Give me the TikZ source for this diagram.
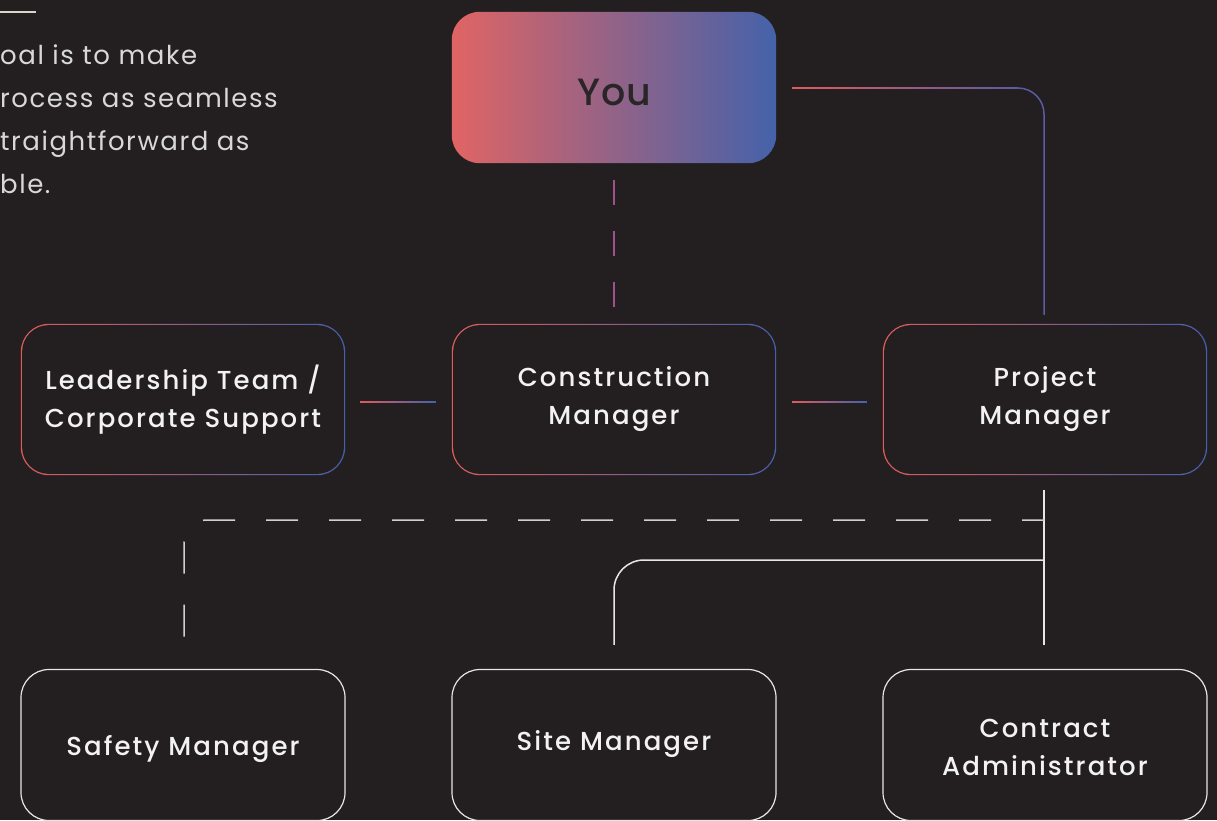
\documentclass[tikz,border=0pt]{standalone}
\usepackage{fontspec}
\setmainfont{Poppins}[LetterSpace=6]
\newfontfamily\medfont{Poppins Medium}[LetterSpace=8]
\newfontfamily\youfont{Poppins Medium}[LetterSpace=2]
\usetikzlibrary{calc}
\definecolor{bg}{HTML}{231F20}
\definecolor{gred}{HTML}{DE5C5C}
\definecolor{gblue}{HTML}{4660AC}
\definecolor{youred}{HTML}{E06464}
\definecolor{youblue}{HTML}{4562AA}
\definecolor{lnblue}{HTML}{5B5BA3}
\definecolor{dashpink}{HTML}{A0508A}
\definecolor{wline}{HTML}{E6E6E6}
\definecolor{dline}{HTML}{CFCFCF}
\definecolor{txt}{HTML}{F2F2F2}
\definecolor{para}{HTML}{D8D8D8}
\definecolor{cream}{HTML}{D9D6C6}
\definecolor{youtxt}{HTML}{2A2527}
\pgfdeclarelayer{bgl}
\pgfdeclarelayer{back}
\pgfsetlayers{bgl,back,main}
\newcommand\gradborder[1]{%
  \begin{pgfonlayer}{back}
    \shade[left color=gred,right color=gblue,rounded corners=28pt]
      (#1.south west) rectangle (#1.north east);
    \fill[bg,rounded corners=26.7pt]
      ($(#1.south west)+(1.3pt,1.3pt)$) rectangle ($(#1.north east)+(-1.3pt,-1.3pt)$);
  \end{pgfonlayer}}
\begin{document}
\begin{tikzpicture}[x=1pt,y=-1pt,
  box/.style={minimum width=324pt,minimum height=151pt,inner sep=0pt},
  wbox/.style={box,draw=wline,line width=1.2pt,rounded corners=28pt},
  lbl/.style={align=center,inner sep=0pt,text=txt,font=\medfont\fontsize{26}{38}\selectfont},
  conn/.style={line width=1.5pt},
]
\begin{pgfonlayer}{bgl}
  \fill[bg] (0,0) rectangle (1217,820);
\end{pgfonlayer}
\useasboundingbox (0,0) rectangle (1217,820);

% intro text
\draw[cream,line width=1.5pt] (0,12) -- (36,12);
\node[anchor=north west,inner sep=0pt,align=left,text=para,
  font=\fontsize{26}{43}\selectfont] (intro) at (0,45)
  {oal is to make\\rocess as seamless\\traightforward as\\ble.};

% nodes
\node[box,label={[lbl,text=youtxt,font=\youfont\fontsize{38}{44}\selectfont,yshift=-5pt]center:You}] (you) at (614,87.5) {};
\node[box,label={[lbl]center:{Leadership Team /\\Corporate Support}}] (lead) at (183,399.5) {};
\node[box,label={[lbl]center:{Construction\\Manager}}] (cm) at (614,399.5) {};
\node[box,label={[lbl]center:{Project\\Manager}}] (pm) at (1045,399.5) {};
\node[wbox,label={[lbl,yshift=-4pt]center:Safety Manager}] (safety) at (183,745) {};
\node[wbox,label={[lbl,yshift=1pt]center:Site Manager}] (site) at (614,745) {};
\node[wbox,label={[lbl,yshift=-2pt]center:{Contract\\Administrator}}] (ca) at (1045,745) {};

\begin{pgfonlayer}{back}
  \shade[left color=youred,right color=youblue,rounded corners=28pt]
    (you.south west) rectangle (you.north east);
\end{pgfonlayer}
\gradborder{lead}
\gradborder{cm}
\gradborder{pm}

% You -> Construction Manager
\draw[conn,dashpink,dash pattern=on 25pt off 26pt]
  ($(you.south)+(0,-17pt)$) -- ($(cm.north)+(0,17pt)$);

% You -> Project Manager
\coordinate (yp1) at ($(you.east)+(16pt,-0.5pt)$);
\coordinate (yp2) at ($(pm.north)+(-1pt,9pt)$);
\draw[conn,lnblue,rounded corners=26pt] (yp1) -| (yp2);
\shade[left color=gred,right color=lnblue]
  ($(yp1)+(0,0.75pt)$) rectangle ($(yp2|-yp1)+(-26pt,-0.75pt)$);

% Leadership -- Construction Manager
\shade[left color=gred,right color=gblue]
  ($(lead.east)+(15pt,-1.75pt)$) rectangle ($(cm.west)+(-16pt,-3.25pt)$);
% Construction Manager -- Project Manager
\shade[left color=gred,right color=gblue]
  ($(cm.east)+(16pt,-1.75pt)$) rectangle ($(pm.west)+(-16pt,-3.25pt)$);

% Project Manager trunk -> Contract Administrator
\coordinate (t1) at ($(pm.south)+(-1pt,-15pt)$);
\draw[conn,wline] (t1) -- ($(ca.north)+(-1pt,24pt)$);
% branch -> Site Manager
\coordinate (js) at (1044,560);
\draw[conn,wline,rounded corners=30pt] (js) -| ($(site.north)+(0,24pt)$);
% branch -> Safety Manager (dashed)
\coordinate (jd) at (1044,520);
\draw[conn,dline,dash pattern=on 32pt off 31pt,dash phase=10pt,rounded corners=22pt]
  (jd) -| ($(safety.north)+(1pt,24pt)$);
\end{tikzpicture}
\end{document}
